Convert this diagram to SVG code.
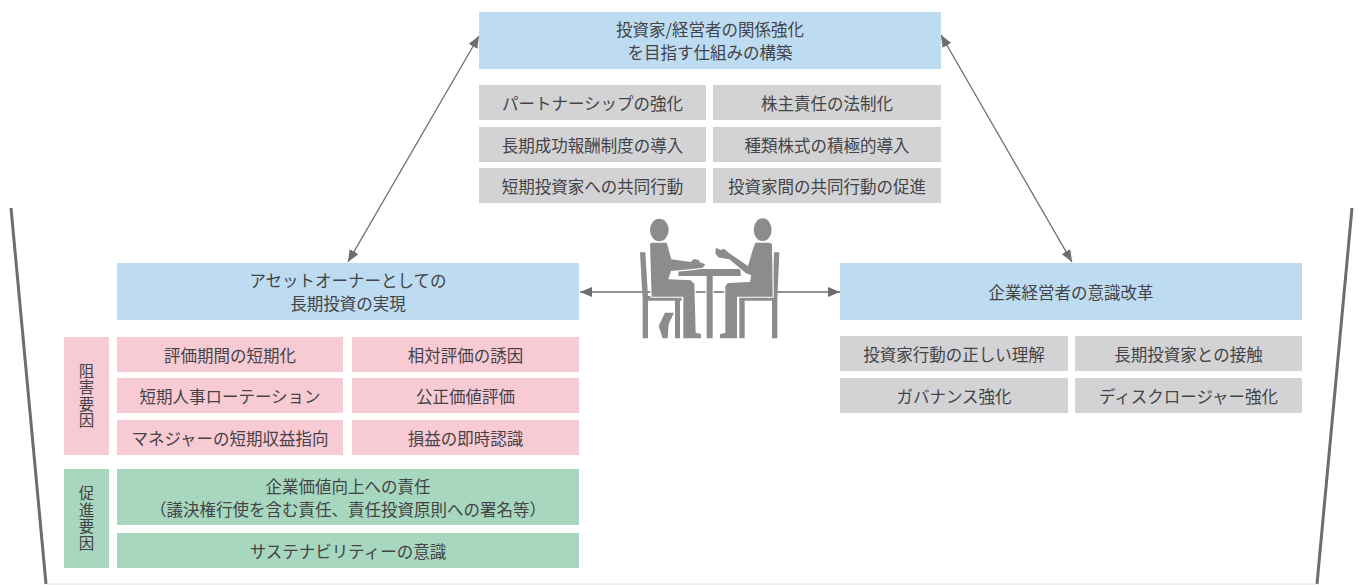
<svg xmlns="http://www.w3.org/2000/svg" xmlns:xlink="http://www.w3.org/1999/xlink" width="1359" height="585" viewBox="0 0 1359 585">
  <style>
    text { font-family: "Noto Sans CJK JP", "Noto Sans CJK SC", sans-serif; font-size: 16.5px; fill: #444446; text-anchor: middle; dominant-baseline: central; }
    .vert { writing-mode: vertical-rl; font-size: 15.5px; letter-spacing: 1px; }
    .blue { fill: #bddbf1; }
    .gray { fill: #d3d3d5; }
    .pink { fill: #f8cad4; }
    .green { fill: #a7d7bf; }
    .conn { stroke: #6e6e70; stroke-width: 1.3; fill: none; marker-start: url(#head); marker-end: url(#head); }
    .rim { stroke: #6d6d70; stroke-width: 3; fill: none; }
    .fig { fill: #8b8c8e; }
  </style>
  <defs>
    <marker id="head" viewBox="0 0 12 10" refX="12" refY="5" markerWidth="12" markerHeight="10" markerUnits="userSpaceOnUse" orient="auto-start-reverse">
      <path d="M0,0 L12,5 L0,10 Z" fill="#6e6e70"/>
    </marker>
    <!-- seated people, drawn in a 3x local space -->
    <g id="people">
      <ellipse cx="268" cy="90" rx="28" ry="34"/>
      <path d="M240,134 Q240,128 248,128 L290,128 L304,178 L362,186 L372,177 L386,180 L390,187 L406,193 L398,203 L368,207 L303,213 L295,238 L362,241 L373,252 L377,398 L393,402 L393,415 L340,415 L340,290 L245,290 Z"/>
      <path d="M285,338 L312,338 L296,372 L293,415 L278,415 L266,378 Z"/>
      <ellipse cx="578" cy="89" rx="27" ry="34"/>
      <path d="M556,128 L598,128 Q606,128 606,136 L608,290 L501,290 L501,415 L450,415 L450,403 L466,398 L466,258 L474,249 L540,246 L544,226 L528,220 L478,178 L468,176 L444,172 L436,160 L438,143 L452,150 L462,146 L478,160 L490,168 L534,198 L548,150 Z"/>
    </g>
  </defs>

  <!-- outer vessel -->
  <g id="vessel">
    <line class="rim" x1="11" y1="208" x2="46" y2="584"/>
    <line class="rim" x1="1352" y1="208" x2="1317" y2="584"/>
    <line x1="47" y1="584" x2="1316" y2="584" stroke="#dedede" stroke-width="1"/>
  </g>

  <!-- connectors -->
  <g id="connectors">
    <line class="conn" x1="479" y1="36" x2="348" y2="262"/>
    <line class="conn" x1="941" y1="35" x2="1072" y2="262"/>
    <line class="conn" x1="580" y1="292" x2="840" y2="292"/>
  </g>

  <!-- meeting pictogram -->
  <g id="meeting" transform="translate(570,200) scale(0.33333)">
    <g class="fig">
      <!-- chairs -->
      <path d="M210,157 L226,157 L234,288 L335,288 L335,302 L330,302 L330,415 L315,415 L315,302 L234,302 L234,415 L218,415 L218,300 Z"/>
      <path d="M612,157 L628,157 L622,300 L622,415 L606,415 L606,302 L524,302 L524,415 L508,415 L508,288 L606,288 Z"/>
      <!-- table -->
      <path d="M325,207 L512,207 L512,228 L428,228 L428,415 L410,415 L410,228 L325,228 Z" stroke="#ffffff" stroke-width="6" paint-order="stroke"/>
    </g>
    <use xlink:href="#people" fill="#ffffff" stroke="#ffffff" stroke-width="7" stroke-linejoin="round"/>
    <use xlink:href="#people" class="fig"/>
  </g>

  <!-- top: investor / management relations -->
  <g id="top-goal">
    <rect class="blue" x="479" y="12" width="462" height="57"/>
    <text x="710" y="29">投資家/経営者の関係強化</text>
    <text x="710" y="52">を目指す仕組みの構築</text>
  </g>
  <g id="top-items">
    <rect class="gray" x="479" y="85" width="227" height="35"/>
    <text x="592.5" y="102.5">パートナーシップの強化</text>
    <rect class="gray" x="713" y="85" width="228" height="35"/>
    <text x="827" y="102.5">株主責任の法制化</text>
    <rect class="gray" x="479" y="127" width="227" height="35"/>
    <text x="592.5" y="144.5">長期成功報酬制度の導入</text>
    <rect class="gray" x="713" y="127" width="228" height="35"/>
    <text x="827" y="144.5">種類株式の積極的導入</text>
    <rect class="gray" x="479" y="168" width="227" height="35"/>
    <text x="592.5" y="185.5">短期投資家への共同行動</text>
    <rect class="gray" x="713" y="168" width="228" height="35"/>
    <text x="827" y="185.5">投資家間の共同行動の促進</text>
  </g>

  <!-- left: asset owners -->
  <g id="asset-owner">
    <rect class="blue" x="117" y="263" width="462" height="57"/>
    <text x="348" y="280">アセットオーナーとしての</text>
    <text x="348" y="303">長期投資の実現</text>
  </g>
  <g id="obstacles">
    <rect class="pink" x="64" y="337" width="45" height="118"/>
    <text class="vert" x="86.5" y="396">阻害要因</text>
    <rect class="pink" x="117" y="337" width="226" height="35"/>
    <text x="230" y="354.5">評価期間の短期化</text>
    <rect class="pink" x="352" y="337" width="227" height="35"/>
    <text x="465.5" y="354.5">相対評価の誘因</text>
    <rect class="pink" x="117" y="378" width="226" height="35"/>
    <text x="230" y="395.5">短期人事ローテーション</text>
    <rect class="pink" x="352" y="378" width="227" height="35"/>
    <text x="465.5" y="395.5">公正価値評価</text>
    <rect class="pink" x="117" y="420" width="226" height="35"/>
    <text x="230" y="437.5">マネジャーの短期収益指向</text>
    <rect class="pink" x="352" y="420" width="227" height="35"/>
    <text x="465.5" y="437.5">損益の即時認識</text>
  </g>
  <g id="drivers">
    <rect class="green" x="64" y="469" width="45" height="99"/>
    <text class="vert" x="86.5" y="518.5">促進要因</text>
    <rect class="green" x="117" y="469" width="462" height="56"/>
    <text x="348" y="485.5">企業価値向上への責任</text>
    <text x="348" y="508.5">（議決権行使を含む責任、責任投資原則への署名等）</text>
    <rect class="green" x="117" y="533" width="462" height="35"/>
    <text x="348" y="550.5">サステナビリティーの意識</text>
  </g>

  <!-- right: corporate management -->
  <g id="management">
    <rect class="blue" x="840" y="263" width="462" height="57"/>
    <text x="1071" y="291.5">企業経営者の意識改革</text>
  </g>
  <g id="management-items">
    <rect class="gray" x="840" y="336" width="228" height="35"/>
    <text x="954" y="353.5">投資家行動の正しい理解</text>
    <rect class="gray" x="1075" y="336" width="227" height="35"/>
    <text x="1188.5" y="353.5">長期投資家との接触</text>
    <rect class="gray" x="840" y="378" width="228" height="35"/>
    <text x="954" y="395.5">ガバナンス強化</text>
    <rect class="gray" x="1075" y="378" width="227" height="35"/>
    <text x="1188.5" y="395.5">ディスクロージャー強化</text>
  </g>
</svg>
